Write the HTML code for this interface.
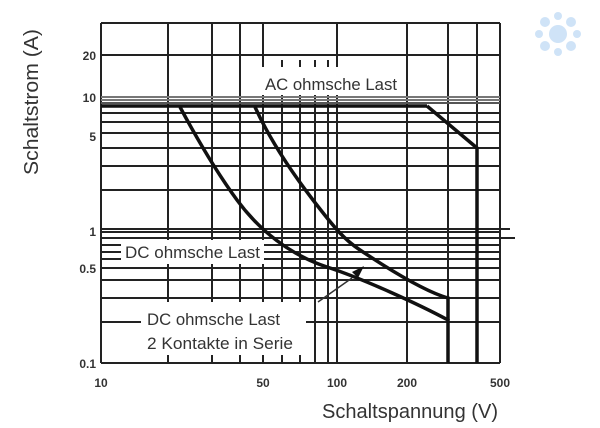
<!DOCTYPE html><html><head><style>body{margin:0;background:#fff}svg{display:block}</style></head><body>
<svg width="600" height="428" xmlns="http://www.w3.org/2000/svg" font-family="Liberation Sans, sans-serif">
<rect width="600" height="428" fill="#fff"/>
<g stroke="#222" stroke-width="2">
<line x1="101" y1="23" x2="101" y2="363"/>
<line x1="500" y1="23" x2="500" y2="363"/>
<line x1="101" y1="23" x2="500" y2="23"/>
<line x1="101" y1="363" x2="500" y2="363"/>
<line x1="168" y1="23" x2="168" y2="363"/>
<line x1="212" y1="23" x2="212" y2="363"/>
<line x1="240" y1="23" x2="240" y2="363"/>
<line x1="263" y1="23" x2="263" y2="363"/>
<line x1="282" y1="60" x2="282" y2="363"/>
<line x1="300" y1="60" x2="300" y2="363"/>
<line x1="315" y1="60" x2="315" y2="363"/>
<line x1="328" y1="60" x2="328" y2="363"/>
<line x1="337" y1="23" x2="337" y2="363"/>
<line x1="407" y1="23" x2="407" y2="363"/>
<line x1="448" y1="23" x2="448" y2="363"/>
<line x1="477" y1="23" x2="477" y2="363"/>
<line x1="101" y1="55" x2="500" y2="55"/>
<line x1="101" y1="97" x2="500" y2="97" stroke="#777"/>
<line x1="101" y1="100" x2="500" y2="100" stroke="#777"/>
<line x1="101" y1="103" x2="500" y2="103" stroke="#555"/>
<line x1="101" y1="113" x2="500" y2="113"/>
<line x1="101" y1="122" x2="500" y2="122"/>
<line x1="101" y1="133" x2="500" y2="133"/>
<line x1="101" y1="148" x2="500" y2="148"/>
<line x1="101" y1="166" x2="500" y2="166"/>
<line x1="101" y1="190" x2="500" y2="190"/>
<line x1="101" y1="229" x2="510" y2="229"/>
<line x1="101" y1="232" x2="500" y2="232"/>
<line x1="101" y1="238" x2="515" y2="238"/>
<line x1="101" y1="245" x2="500" y2="245"/>
<line x1="101" y1="252" x2="500" y2="252"/>
<line x1="101" y1="259" x2="500" y2="259"/>
<line x1="101" y1="268" x2="500" y2="268"/>
<line x1="101" y1="280" x2="500" y2="280"/>
<line x1="101" y1="298" x2="500" y2="298"/>
<line x1="101" y1="322" x2="500" y2="322"/>
</g>
<rect x="262" y="67" width="142" height="28" fill="#fff"/>
<rect x="121" y="240" width="143" height="24" fill="#fff"/>
<rect x="141" y="302" width="165" height="53" fill="#fff"/>
<g fill="none" stroke="#111" stroke-width="3.5">
<line x1="101" y1="106" x2="427" y2="106"/>
<polyline points="427,106 477,148 477,363"/>
<path d="M180,107 C195,135 215,170 237,200 S290,255 327,267 S420,305 448,320 L448,363"/>
<path d="M255,107 C270,140 290,170 313,200 S345,240 360,250 S420,290 448,298 L448,320"/>
</g>
<polyline points="318,302 352,278" fill="none" stroke="#333" stroke-width="1.5"/>
<polygon points="352,272 364,266 358,278" fill="#111"/>
<g fill="#333" font-size="17">
<text x="265" y="90" textLength="132" lengthAdjust="spacingAndGlyphs">AC ohmsche Last</text>
<text x="125" y="258" textLength="135" lengthAdjust="spacingAndGlyphs">DC ohmsche Last</text>
<text x="147" y="325" textLength="133" lengthAdjust="spacingAndGlyphs">DC ohmsche Last</text>
<text x="147" y="349" textLength="146" lengthAdjust="spacingAndGlyphs">2 Kontakte in Serie</text>
</g>
<g fill="#333" font-size="12" font-weight="bold" text-anchor="end">
<text x="96" y="60">20</text><text x="96" y="102">10</text><text x="96" y="141">5</text>
<text x="96" y="236">1</text><text x="96" y="273">0.5</text><text x="96" y="368">0.1</text>
</g>
<g fill="#333" font-size="12" font-weight="bold" text-anchor="middle">
<text x="101" y="387">10</text><text x="263" y="387">50</text><text x="337" y="387">100</text>
<text x="407" y="387">200</text><text x="500" y="387">500</text>
</g>
<text x="322" y="418" font-size="20" fill="#333" textLength="176" lengthAdjust="spacingAndGlyphs">Schaltspannung (V)</text>
<text transform="translate(38,175) rotate(-90)" font-size="20" fill="#333" textLength="146" lengthAdjust="spacingAndGlyphs">Schaltstrom (A)</text>
<g fill="#cfe3f7">
<circle cx="558" cy="34" r="9"/><circle cx="545" cy="22" r="5"/><circle cx="571" cy="22" r="5"/>
<circle cx="545" cy="46" r="5"/><circle cx="571" cy="46" r="5"/><circle cx="558" cy="16" r="4"/><circle cx="558" cy="52" r="4"/><circle cx="539" cy="34" r="4"/><circle cx="577" cy="34" r="4"/>
</g>
</svg>
</body></html>
